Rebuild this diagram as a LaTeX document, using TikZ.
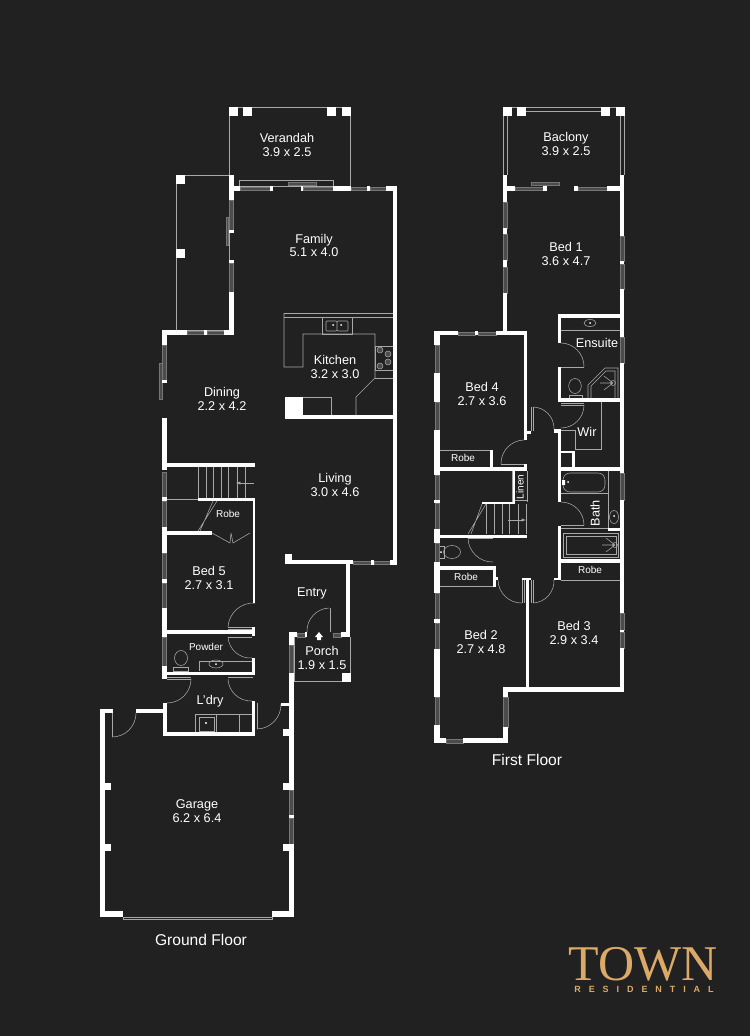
\documentclass[tikz,border=0pt]{standalone}
\usepackage{fontspec}
\setmainfont{Liberation Sans}
\newfontfamily\logofont{Liberation Serif}
\newfontfamily\tagfont[LetterSpace=88]{Liberation Sans}
\definecolor{planbg}{HTML}{222122}
\definecolor{thinline}{HTML}{A8A8A8}
\definecolor{wingray}{HTML}{4C4C4C}
\definecolor{logogold}{HTML}{DBA968}
\begin{document}
\begin{tikzpicture}[x=1pt, y=-1pt,
        wall/.style={fill=white},
        winpane/.style={fill=wingray, draw=thinline!70!black, line width=0.4pt},
        thin line/.style={draw=thinline, line width=0.55pt},
        swing/.style={draw=thinline, line width=0.55pt},
        room/.style={text=white, align=center, inner sep=0pt, font=\fontsize{12.7}{13.4}\selectfont},
        small room/.style={text=white, align=center, inner sep=0pt, font=\fontsize{10}{11}\selectfont},
        floor title/.style={text=white, inner sep=0pt, font=\fontsize{15.6}{17}\selectfont}]

    \fill[planbg] (0,0) rectangle (750,1036);
    \useasboundingbox (0,0) rectangle (750,1036);

    % ground floor: thin outlines
    \draw[thin line] (229,107) rectangle (350,186);
    \draw[thin line] (176,175) rectangle (229,330);
    \draw[thin line] (239,186) -- (239,180) -- (333,180) -- (333,186);
    \draw[thin line] (294,637) -- (294,681) -- (350,681) -- (350,637);
    \draw[thin line] (123,917) rectangle (272,919);
    \draw[thin line] (284,313) -- (393,313) (284,317) -- (393,317);
    \draw[thin line] (284,313) -- (284,367) -- (303,367) -- (303,334) -- (375,334) -- (375,378)
        -- (356,397) -- (356,415);
    \draw[thin line] (322,317) rectangle (352,334);
    \draw[thin line, rounded corners=1pt] (326,321) rectangle (337,331) (337,321) rectangle (348,331);
    \draw[thin line] (375,346) rectangle (393,370) (375,378) -- (393,378);
    \foreach \cx/\cy in {380/350,388/354,380/366,388/362}
        \draw[thin line, fill=wingray] (\cx,\cy) circle (3);
    \draw[thin line] (303,397) -- (331,397) -- (331,415);
    \fill[white] (333,325) circle (1) (341,325) circle (1);

    % stairs, robe doors, wet areas
    \foreach \tx in {198,206,213,221,228,237,245}
        \draw[thin line] (\tx,467) -- (\tx,498);
    \draw[thin line] (167,499) -- (198,499);
    \draw[thin line] (217,501) -- (198,531) (213,501) -- (200,531);
    \draw[thin line] (212,533) -- (230,543) -- (231,533) (250,533) -- (233,543) -- (231,533);
    \draw[thin line] (228,627) -- (252,627) (228,629) -- (252,629);
    \draw[thin line] (228,637) -- (252,637);
    \draw[thin line] (199,671) -- (199,661) -- (252,661);
    \draw[thin line] (216,664) ellipse (7 and 4);
    \draw[thin line] (181,658) ellipse (6.5 and 7.5);
    \draw[thin line] (173,667) rectangle (188,671);
    \fill[white] (216,664) circle (1);
    \draw[thin line] (228,677) -- (253,677) (167,677) -- (191,677) (167,679) -- (191,679);
    \draw[thin line] (195,714) rectangle (252,732) (195,714) rectangle (216,732);
    \draw[thin line] (199,717) rectangle (214,731) (239,714) -- (239,732);
    \fill[white] (206,723) circle (1.2);

    % ground floor: doors
    \draw[thin line] (112,713) -- (112,737) (330,608) -- (330,632) (257,703) -- (257,729);
    \draw[swing] (255,603) to[bend right=45] (228,627);
    \draw[swing] (228,637) to[bend right=45] (252,658);
    \draw[swing] (191,679) to[bend left=45] (167,703);
    \draw[swing] (228,679) to[bend right=45] (252,701);
    \draw[swing] (112,737) to[bend right=45] (136,713);
    \draw[swing] (257,729) to[bend right=45] (281,704);
    \draw[swing] (307,632) to[bend left=45] (329,608);

    % first floor: thin outlines
    \foreach \ox in {0,4}
        \draw[thin line] (503+\ox,116) -- (503+\ox,175) (620+\ox,116) -- (620+\ox,175);
    \draw[thin line] (512,107) -- (616,107) (526,111) -- (601,111);
    \draw[thin line] (561,330) -- (620,330);
    \draw[thin line] (618,398) -- (618,368) -- (605,368) -- (588,385) -- (588,398);
    \draw[thin line] (615,398) -- (615,371) -- (606,371) -- (591,386) -- (591,398);
    \draw[thin line] (575,386) ellipse (6.3 and 7.5);
    \draw[thin line] (569,395) rectangle (582,399);
    \draw[thin line] (590,323) ellipse (6 and 3.5);
    \fill[white] (590,323) circle (1);
    \draw[thin line] (613,383) circle (2.5) (600,383) -- (613,383) (604,376) -- (613,383) (604,390) -- (613,383);
    \draw[thin line] (561,403) -- (584,403) (561,405) -- (584,405);
    \draw[thin line] (561,430) -- (575,430) -- (575,449) -- (601,449) -- (601,402);
    \draw[thin line, rounded corners=7pt] (563,473) -- (605,473) -- (605,492) -- (563,492) -- cycle;
    \draw[thin line] (561,493) -- (608,493) (608,471) -- (608,528);
    \fill[white] (562,480) rectangle (565,485) (568,482) circle (1);
    \draw[thin line] (614,517) ellipse (4.5 and 6.5);
    \fill[white] (614,516) circle (1);
    \draw[thin line] (561,525) -- (584,525) (561,528) -- (608,528);
    \draw[thin line] (563,533) rectangle (618,557) (566,536) rectangle (616,554);
    \draw[thin line] (615,545) circle (2.5) (602,545) -- (615,545) (606,538) -- (615,545) (606,552) -- (615,545);
    \draw[thin line] (561,580) -- (620,580);
    \draw[thin line] (440,450) -- (490,450) (440,586) -- (493,586);
    \draw[thin line] (512.5,471) -- (512.5,502) (513,500) -- (527,500) (527,471) -- (527,502);
    \foreach \tx in {486,494,502,509,518,526}
        \draw[thin line] (\tx,504) -- (\tx,534);
    \draw[thin line] (486,504) -- (468,534) (482,504) -- (471,534);
    \draw[thin line, -latex] (508,520) -- (526,520);
    \draw[thin line] (452,552) ellipse (8.5 and 6.5);
    \draw[thin line] (439,546) rectangle (444,558);
    \fill[white] (441,552) circle (1);
    \draw[thin line] (468,538) -- (493,538);
    \draw[thin line] (501,464) -- (524,464);
    \draw[thin line] (561,367) -- (584,367);

    % first floor: doors
    \draw[thin line] (531,407) -- (531,431) (533,407) -- (533,431);
    \draw[thin line] (522,580) -- (522,603) (524,580) -- (524,603);
    \draw[thin line] (531,580) -- (531,603) (533,580) -- (533,603);
    \draw[swing] (533,407) to[bend left=45] (554,429);
    \draw[swing] (524,440) to[bend right=45] (501,464);
    \draw[swing] (468,538) to[bend right=45] (493,562);
    \draw[swing] (498,580) to[bend right=45] (522,603);
    \draw[swing] (533,603) to[bend right=45] (554,580);
    \draw[swing] (561,343) to[bend left=45] (584,367);
    \draw[swing] (584,405) to[bend left=45] (561,428);
    \draw[swing] (561,502) to[bend left=45] (584,525);

    % window panes, x1/y1/x2/y2
    \foreach \xa/\ya/\xb/\yb in {240/187/270/190,303/187/333/190,351/187/367/190,370/187/386/190,
        288/182/316/185,229.5/200/233.5/230,226/217/228/245,229.5/263/233.5/292,187/331/204/334,207/331/224/334,
        162.5/345/166.5/380,159/363/162/399,162.5/472/166.5/497,162.5/501/166.5/527,162.5/553/166.5/579,162.5/583/166.5/608,
        162.5/637/166.5/666,297/633/305/637,333/633/341/637,289.5/645/293.5/673,289.5/790/293.5/815,289.5/818/293.5/844,
        353/561/371/564,374/561/390/564,
        515/187/543/190,578/187/607/190,531/182/559/185,503.5/202/507/228,503.5/234/507/260,503.5/267/507/293,
        620/236/624/261,620/264/624/289,620/337/624/363,620/473/624/500,620/613/624/630,620/632/624/648,
        458/332/475/335,478/332/496/335,435/345/439.5/373,435/402/439.5/430,435/475/439.5/500,435/503/439.5/529,
        435/543/439/562,435/593/439.5/619,435/623/439.5/649,435/697/439.5/725,503.5/697/508/727,446/739/463/743}
        \path[winpane] (\xa,\ya) rectangle (\xb,\yb);

    % walls, x1/y1/x2/y2
    \foreach \xa/\ya/\xb/\yb in {229/175/234/200,234/186/240/191,270/186/273/191,301/186/303/191,
        333/186/351/191,367/186/370/191,386/186/397/191,393/186/397/565,229/230/234/233,229/260/234/263,
        229/292/234/335,162/330/187/335,204/330/207/335,224/330/234/335,162/330/167/345,162/380/167/383,
        162/418/167/470,162/497/167/501,162/527/167/553,162/579/167/583,162/608/167/637,162/666/167/679,
        167/463/255/467,198/498/255/501,253/498/255/603,167/531/212/535,167/630/255/634,252/627/255/636,
        252/658/255/675,167/672/255/675,163/675/167/679,163/703/167/736,163/732/255/736,252/701/255/736,
        136/709/163/713,100/709/113/713,100/709/105/917,100/911/123/917,272/911/294/917,
        289/632/294/645,289/673/294/790,289/815/294/818,289/844/294/917,
        105/783/111/790,105/844/111/851,283/783/289/790,283/844/289/851,283/729/289/736,281/703/289/706,
        289/632/297/637,305/632/307/637,341/632/350/637,346/560/350/637,285/560/353/564,285/554/292/563,
        371/560/374/565,390/560/397/565,285/415/397/419,285/397/303/419,
        % first floor
        503/175/507/202,503/228/507/234,503/260/507/267,503/293/507/335,503/186/515/191,543/186/547/191,
        574/186/578/191,607/186/624/191,620/175/624/236,620/261/624/264,620/289/624/337,620/363/624/473,
        620/500/624/613,620/630/624/632,620/648/624/692,503/687/624/692,503/687/508/697,503/727/508/743,
        434/738/446/743,463/738/508/743,434/331/458/335,475/331/478/335,496/331/527/335,524/331/527/440,
        524/431/531/434,490/450/493/467,440/467/527/471,524/464/527/471,513/471/515/502,482/502/515/504,
        440/535/527/538,440/566/496/570,493/566/496/587,493/577/498/580,
        434/331/440/345,434/373/440/402,434/430/440/475,434/500/440/503,434/529/440/543,434/562/440/593,
        434/619/440/623,434/649/440/697,434/725/440/743,
        526/580/529/687,522/578/531/580,558/314/620/318,558/314/561/343,558/367/561/402,558/398/624/402,
        558/429/561/502,554/429/561/433,561/451/575/453,572/451/575/470,558/467/624/471,
        558/526/561/580,608/528/624/531,558/559/624/563,554/578/561/580}
        \fill[wall] (\xa,\ya) rectangle (\xb,\yb);

    % posts
    \foreach \xa/\ya in {229/107,243/107,327/107,342/107,176/175,176/249,342/673,
        503/107,517/107,601/107,616/107}
        \fill[wall] (\xa,\ya) rectangle ++(8.7,8.7);

    % porch arrow
    \fill[white] (319,632) -- (323,637) -- (321,637) -- (321,640) -- (317,640) -- (317,637) -- (315,637) -- cycle;
    % stair arrow, ground floor
    \draw[thin line, latex-] (236,483) -- (254,483);

    % ground floor rooms
    \node[room] (verandah) at (287,145) {Verandah\\3.9 x 2.5};
    \node[room] (family) at (314,245.5) {Family\\5.1 x 4.0};
    \node[room] (kitchen) at (335,367) {Kitchen\\3.2 x 3.0};
    \node[room] (dining) at (222,399) {Dining\\2.2 x 4.2};
    \node[room] (living) at (335,485) {Living\\3.0 x 4.6};
    \node[room] (bedfive) at (209,578) {Bed 5\\2.7 x 3.1};
    \node[small room] (robefive) at (228,514) {Robe};
    \node[room] (entry) at (312,593) {Entry};
    \node[small room] (powder) at (206,647) {Powder};
    \node[room] (porch) at (322,658) {Porch\\1.9 x 1.5};
    \node[room] (laundry) at (210,701) {L'dry};
    \node[room] (garage) at (197,811) {Garage\\6.2 x 6.4};
    \node[floor title] (groundtitle) at (201,940) {Ground Floor};

    % first floor rooms
    \node[room] (balcony) at (566,144) {Baclony\\3.9 x 2.5};
    \node[room] (bedone) at (566,254) {Bed 1\\3.6 x 4.7};
    \node[room] (ensuite) at (597,343) {Ensuite};
    \node[room] (bedfour) at (482,394) {Bed 4\\2.7 x 3.6};
    \node[room] (wir) at (587,432) {Wir};
    \node[small room] (robefour) at (463,458) {Robe};
    \node[small room, rotate=90] (linen) at (520,487) {Linen};
    \node[room, rotate=90] (bath) at (595,513) {Bath};
    \node[small room] (robethree) at (590,570) {Robe};
    \node[small room] (robetwo) at (466,577) {Robe};
    \node[room] (bedthree) at (574,633) {Bed 3\\2.9 x 3.4};
    \node[room] (bedtwo) at (481,642) {Bed 2\\2.7 x 4.8};
    \node[floor title] (firsttitle) at (527,760) {First Floor};

    % logo
    \node[text=logogold, inner sep=0pt, font=\logofont\fontsize{50}{50}\selectfont] (logotown) at (643,964) {TOWN};
    \node[text=logogold, inner sep=0pt, font=\tagfont\fontsize{9}{9}\selectfont\bfseries] (logotag) at (644,989.5) {RESIDENTIAL};
\end{tikzpicture}
\end{document}
